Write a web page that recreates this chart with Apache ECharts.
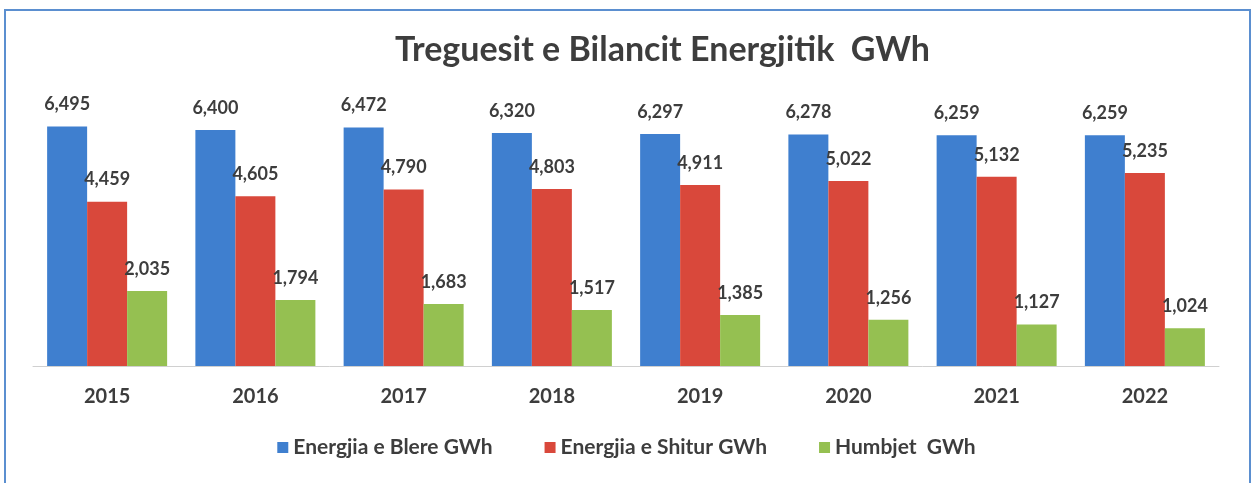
<!DOCTYPE html>
<html lang="sq">
<head>
    <meta charset="UTF-8">
    <title>Treguesit e Bilancit Energjitik</title>
    <script src="https://cdn.jsdelivr.net/npm/echarts@6/dist/echarts.min.js"></script>
    <style>
        html, body { margin: 0; padding: 0; background: #fff; }
        #frame {
            position: absolute; left: 4px; top: 9px; width: 1243px; height: 480px;
            border: 2px solid #5b8fd0; pointer-events: none;
        }
    </style>
</head>
<body>

<div id="main" style="width: 1253px;height:483px;"></div>
<div id="frame"></div>
<script type="text/javascript">
    var years = ['2015', '2016', '2017', '2018', '2019', '2020', '2021', '2022'];
    var blere = [6495, 6400, 6472, 6320, 6297, 6278, 6259, 6259];
    var shitur = [4459, 4605, 4790, 4803, 4911, 5022, 5132, 5235];
    var humbjet = [2035, 1794, 1683, 1517, 1385, 1256, 1127, 1024];

    var chart = echarts.init(document.getElementById('main'));

    var txt = '#3d3d3d';
    var font = 'Lato, "Open Sans", sans-serif';

    function fmt(p) {
        return p.value.toLocaleString('en-US');
    }

    function bar(name, data, color) {
        return {
            name: name,
            type: 'bar',
            data: data,
            barWidth: 40,
            barGap: '0%',
            itemStyle: { color: color },
            label: {
                show: true,
                position: 'top',
                distance: 13,
                formatter: fmt,
                color: txt,
                fontFamily: font,
                fontWeight: 'bold',
                fontSize: 18
            }
        };
    }

    var option = {
        animation: false,
        title: {
            text: 'Treguesit e Bilancit Energjitik  GWh',
            left: 390,
            top: 28,
            textStyle: { color: txt, fontFamily: font, fontWeight: 'bold', fontSize: 34 }
        },
        legend: {
            bottom: 20,
            left: 'center',
            itemWidth: 11,
            itemHeight: 11,
            itemGap: 52,
            icon: 'rect',
            textStyle: { color: txt, fontFamily: font, fontWeight: 'bold', fontSize: 21 },
            data: ['Energjia e Blere GWh', 'Energjia e Shitur GWh', 'Humbjet  GWh']
        },
        grid: { left: 33, right: 34, top: 108, bottom: 117, containLabel: false },
        xAxis: {
            type: 'category',
            data: years,
            axisLine: { lineStyle: { color: '#d0d0d0' } },
            axisTick: { show: false },
            axisLabel: { color: txt, fontFamily: font, fontWeight: 'bold', fontSize: 20, margin: 21 }
        },
        yAxis: {
            type: 'value',
            min: 0,
            max: 7000,
            show: false,
            splitLine: { show: false }
        },
        series: [
            bar('Energjia e Blere GWh', blere, '#3f7fcf'),
            bar('Energjia e Shitur GWh', shitur, '#d9483b'),
            bar('Humbjet  GWh', humbjet, '#95c051')
        ]
    };

    chart.setOption(option);
</script>
</body>
</html>
